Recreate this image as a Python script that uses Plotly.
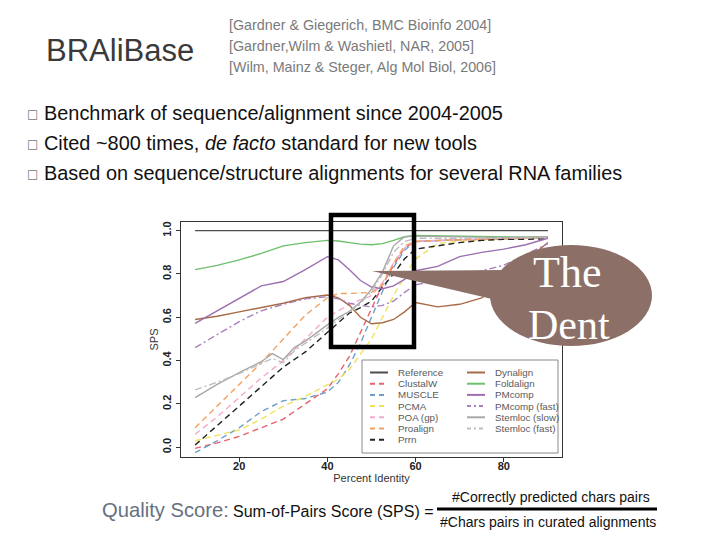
import plotly.graph_objects as go

# ---------------- data ----------------
PCT = [10, 15, 20, 25, 30, 35, 40, 42.5, 45, 47.5, 50, 52.5, 55, 57.5, 60, 65, 70, 75, 80, 85, 90]
STEM_PCT = [10, 15, 20, 25, 27.5, 30, 32.5, 35, 40, 42.5, 45, 47.5, 50, 52.5, 55, 57.5, 60, 70, 80, 90]
REF_PCT = [10, 90]

reference = [1.0, 1.0]
clustalw = [-0.005, 0.02, 0.05, 0.09, 0.13, 0.2, 0.27, 0.34, 0.42, 0.53, 0.64, 0.75, 0.84, 0.92, 0.95, 0.955, 0.958, 0.96, 0.962, 0.965, 0.968]
muscle = [-0.025, 0.03, 0.09, 0.165, 0.215, 0.225, 0.255, 0.3, 0.38, 0.48, 0.6, 0.72, 0.83, 0.91, 0.95, 0.955, 0.958, 0.96, 0.962, 0.965, 0.968]
pcma = [0.03, 0.055, 0.08, 0.13, 0.19, 0.235, 0.29, 0.315, 0.36, 0.43, 0.5, 0.6, 0.7, 0.79, 0.87, 0.94, 0.952, 0.956, 0.96, 0.965, 0.97]
poa = [0.06, 0.14, 0.23, 0.32, 0.4, 0.5, 0.6, 0.63, 0.66, 0.68, 0.7, 0.76, 0.85, 0.92, 0.95, 0.955, 0.958, 0.96, 0.962, 0.965, 0.968]
proalign = [0.09, 0.19, 0.29, 0.39, 0.5, 0.61, 0.69, 0.71, 0.71, 0.712, 0.715, 0.75, 0.85, 0.93, 0.95, 0.955, 0.958, 0.96, 0.962, 0.965, 0.968]
prrn = [0.01, 0.1, 0.19, 0.28, 0.37, 0.44, 0.53, 0.575, 0.62, 0.645, 0.675, 0.74, 0.8, 0.87, 0.915, 0.93, 0.945, 0.955, 0.96, 0.96, 0.962]
dynalign = [0.59, 0.605, 0.625, 0.645, 0.665, 0.69, 0.703, 0.69, 0.655, 0.6, 0.57, 0.575, 0.59, 0.625, 0.668, 0.648, 0.66, 0.69, 0.76, 0.86, 0.945]
foldalign = [0.82, 0.84, 0.865, 0.895, 0.93, 0.945, 0.955, 0.952, 0.945, 0.938, 0.935, 0.94, 0.955, 0.972, 0.978, 0.976, 0.974, 0.972, 0.97, 0.97, 0.972]
pmcomp = [0.572, 0.63, 0.69, 0.745, 0.765, 0.82, 0.88, 0.865, 0.82, 0.77, 0.74, 0.732, 0.745, 0.775, 0.815, 0.835, 0.88, 0.9, 0.915, 0.935, 0.965]
pmcomp_fast = [0.46, 0.52, 0.58, 0.63, 0.66, 0.685, 0.695, 0.685, 0.665, 0.655, 0.648, 0.655, 0.675, 0.715, 0.75, 0.77, 0.795, 0.815, 0.84, 0.89, 0.94]
stemloc_slow = [0.229, 0.29, 0.345, 0.395, 0.432, 0.405, 0.46, 0.49, 0.565, 0.6, 0.628, 0.67, 0.73, 0.81, 0.93, 0.972, 0.975, 0.972, 0.968, 0.972]
stemloc_fast = [0.265, 0.3, 0.34, 0.385, 0.41, 0.39, 0.445, 0.48, 0.55, 0.59, 0.625, 0.665, 0.72, 0.8, 0.9, 0.95, 0.965, 0.965, 0.965, 0.968]

names = ["Reference", "ClustalW", "MUSCLE", "PCMA", "POA (gp)", "Proalign", "Prrn",
         "Dynalign", "Foldalign", "PMcomp", "PMcomp (fast)", "Stemloc (slow)", "Stemloc (fast)"]
xs = [REF_PCT, PCT, PCT, PCT, PCT, PCT, PCT, PCT, PCT, PCT, PCT, STEM_PCT, STEM_PCT]
ys = [reference, clustalw, muscle, pcma, poa, proalign, prrn,
      dynalign, foldalign, pmcomp, pmcomp_fast, stemloc_slow, stemloc_fast]

x_ticks = [20, 40, 60, 80]
y_ticks = [0.0, 0.2, 0.4, 0.6, 0.8, 1.0]

# ---------------- styles ----------------
DASH = "6px,4px"
DASHDOT = "7px,3px,2px,3px"
colors = ["#4d4d4d", "#e8616f", "#6d9fc9", "#efe35a", "#f4a9cf", "#f2a160", "#222222",
          "#a86a45", "#6cbf6c", "#9d6fb0", "#a880bd", "#a8a8a8", "#bdbdbd"]
dashes = ["solid", DASH, DASH, DASH, DASH, DASH, DASH,
          "solid", "solid", "solid", DASHDOT, "solid", DASHDOT]

FONT = "Liberation Sans, Arial, sans-serif"
OFF = 8  # page offset of the figure (body margin)
# plot area in page pixels
PL, PR, PT, PB = 181, 562, 222, 457
L, R, T, B = PL - OFF, PR - OFF, PT - OFF, PB - OFF


def fx(p):
    return (p - OFF - L) / (R - L)


def fy(p):
    return (B - (p - OFF)) / (B - T)


fig = go.Figure()
for n, x, y, c, d in zip(names, xs, ys, colors, dashes):
    fig.add_trace(go.Scatter(x=x, y=y, mode="lines", name=n, showlegend=False,
                             line=dict(color=c, width=1.4, dash=d)))

shapes = []
annotations = []

# legend box (manual, two columns)
shapes.append(dict(type="rect", xref="paper", yref="paper", layer="above",
                   x0=fx(362), x1=fx(558), y0=fy(453), y1=fy(360),
                   line=dict(color="#8a8a8a", width=1), fillcolor="white"))
for i, (n, c, d) in enumerate(zip(names, colors, dashes)):
    col = 0 if i < 7 else 1
    row = i if i < 7 else i - 7
    yy = 372.5 + 11.2 * row
    sx0 = 370 if col == 0 else 467
    sd = "5px,4px" if d == DASH else ("4px,3px,2px,3px" if d == DASHDOT else "solid")
    shapes.append(dict(type="line", xref="paper", yref="paper", layer="above",
                       x0=fx(sx0), x1=fx(sx0 + 18), y0=fy(yy), y1=fy(yy),
                       line=dict(color=c, width=2, dash=sd)))
    annotations.append(dict(xref="paper", yref="paper", x=fx(sx0 + 26), y=fy(yy), text=n,
                            showarrow=False, xanchor="left", yanchor="middle",
                            font=dict(family=FONT, size=9.8, color="#5a5a5a")))

# black highlight box
shapes.append(dict(type="rect", xref="paper", yref="paper", layer="above",
                   x0=fx(331), x1=fx(414), y0=fy(347), y1=fy(215),
                   line=dict(color="black", width=4.5)))

# callout
callout = "#8c7068"
shapes.append(dict(type="path", xref="paper", yref="paper", layer="above",
                   path="M {:.4f},{:.4f} L {:.4f},{:.4f} L {:.4f},{:.4f} Z".format(
                       fx(372), fy(271), fx(505), fy(270), fx(505), fy(302)),
                   fillcolor=callout, line=dict(width=0)))
shapes.append(dict(type="circle", xref="paper", yref="paper", layer="above",
                   x0=fx(490), x1=fx(652), y0=fy(346), y1=fy(245),
                   fillcolor=callout, line=dict(width=0)))
annotations.append(dict(xref="paper", yref="paper", x=fx(567), y=fy(272), text="The",
                        showarrow=False, xanchor="center", yanchor="middle",
                        font=dict(family="Liberation Serif, Times New Roman, serif", size=44, color="white")))
annotations.append(dict(xref="paper", yref="paper", x=fx(569), y=fy(325), text="Dent",
                        showarrow=False, xanchor="center", yanchor="middle",
                        font=dict(family="Liberation Serif, Times New Roman, serif", size=42, color="white")))

# slide title and references
annotations.append(dict(xref="paper", yref="paper", x=fx(120), y=fy(50), text="BRAliBase",
                        showarrow=False, xanchor="center", yanchor="middle",
                        font=dict(family=FONT, size=31, color="#3a3a3a")))
refs = ["[Gardner & Giegerich, BMC Bioinfo 2004]",
        "[Gardner,Wilm & Washietl, NAR, 2005]",
        "[Wilm, Mainz & Steger, Alg Mol Biol, 2006]"]
for i, t in enumerate(refs):
    annotations.append(dict(xref="paper", yref="paper", x=fx(227), y=fy(25 + 21 * i), text=t,
                            showarrow=False, xanchor="left", yanchor="middle",
                            font=dict(family=FONT, size=14.3, color="#7a7a7a")))

bullets = ["Benchmark of sequence/alignment since 2004-2005",
           "Cited ~800 times, <i>de facto</i> standard for new tools",
           "Based on sequence/structure alignments for several RNA families"]
for i, t in enumerate(bullets):
    yy = 113 + 30 * i
    annotations.append(dict(xref="paper", yref="paper", x=fx(32), y=fy(yy + 1), text="□",
                            showarrow=False, xanchor="center", yanchor="middle",
                            font=dict(family="DejaVu Sans", size=12, color="#777777")))
    annotations.append(dict(xref="paper", yref="paper", x=fx(42), y=fy(yy), text=t,
                            showarrow=False, xanchor="left", yanchor="middle",
                            font=dict(family=FONT, size=19.9, color="#111111")))

# bottom formula
annotations.append(dict(xref="paper", yref="paper", x=fx(100), y=fy(510), text="Quality Score:",
                        showarrow=False, xanchor="left", yanchor="middle",
                        font=dict(family=FONT, size=20.2, color="#66707f")))
annotations.append(dict(xref="paper", yref="paper", x=fx(231), y=fy(511), text="Sum-of-Pairs Score (SPS) =",
                        showarrow=False, xanchor="left", yanchor="middle",
                        font=dict(family=FONT, size=16, color="#111111")))
annotations.append(dict(xref="paper", yref="paper", x=fx(551), y=fy(497), text="#Correctly predicted chars pairs",
                        showarrow=False, xanchor="center", yanchor="middle",
                        font=dict(family=FONT, size=14, color="#111111")))
annotations.append(dict(xref="paper", yref="paper", x=fx(548), y=fy(522), text="#Chars pairs in curated alignments",
                        showarrow=False, xanchor="center", yanchor="middle",
                        font=dict(family=FONT, size=14, color="#111111")))
shapes.append(dict(type="line", xref="paper", yref="paper",
                   x0=fx(437), x1=fx(657), y0=fy(509), y1=fy(509),
                   line=dict(color="black", width=3)))

fig.update_layout(
    width=720, height=540,
    margin=dict(l=L, r=720 - R, t=T, b=540 - B),
    paper_bgcolor="white", plot_bgcolor="white",
    showlegend=False,
    shapes=shapes, annotations=annotations,
    font=dict(family=FONT, color="#222222"),
)
fig.update_xaxes(range=[6.8, 93.2], tickvals=x_ticks, ticks="outside", ticklen=4,
                 tickcolor="#333", showline=True, mirror=True, linecolor="#333", linewidth=1.3,
                 showgrid=False, zeroline=False, ticklabelstandoff=-5,
                 tickfont=dict(family=FONT, size=11, color="#222", weight="bold"),
                 title=dict(text="Percent Identity", font=dict(family=FONT, size=11, color="#333"), standoff=0))
fig.update_yaxes(range=[-0.045, 1.04], tickvals=y_ticks, tickformat=".1f", tickangle=-90,
                 ticks="outside", ticklen=4, tickcolor="#333",
                 showline=True, mirror=True, linecolor="#333", linewidth=1.3,
                 showgrid=False, zeroline=False,
                 tickfont=dict(family=FONT, size=11, color="#222", weight="bold"),
                 title=dict(text="SPS", font=dict(family=FONT, size=11, color="#333"), standoff=0))

fig.write_html("out.html")
